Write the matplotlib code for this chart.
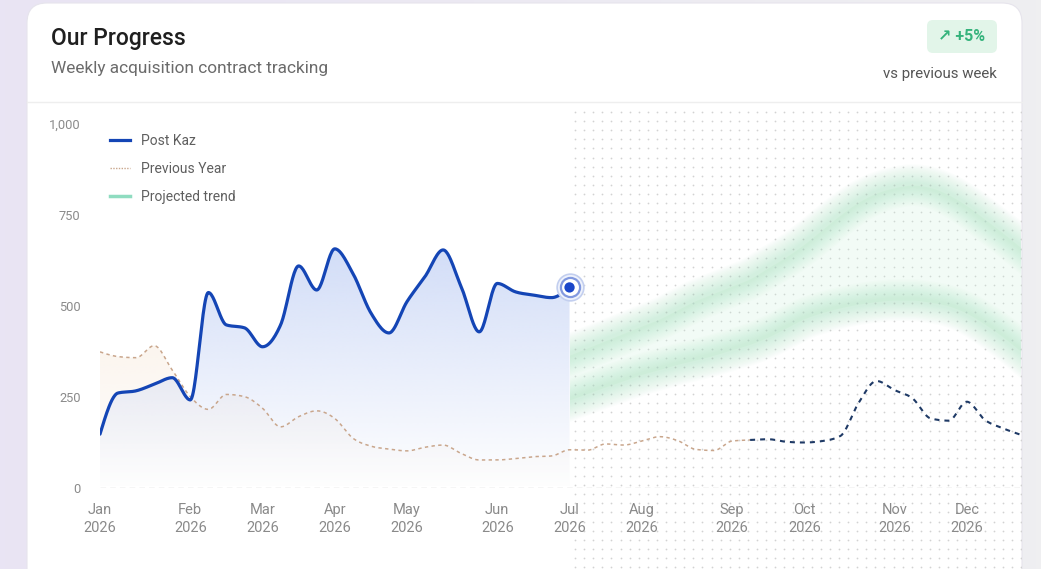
import numpy as np
import matplotlib
matplotlib.use("Agg")
import matplotlib.pyplot as plt
from matplotlib.patches import FancyBboxPatch, Rectangle
from matplotlib.lines import Line2D
from matplotlib.colors import to_rgb

plt.rcParams['font.family'] = ['Roboto', 'DejaVu Sans']

# ---------------- data ----------------
month_labels = ['Jan', 'Feb', 'Mar', 'Apr', 'May', 'Jun', 'Jul', 'Aug', 'Sep', 'Oct', 'Nov', 'Dec']
month_week_index = [0, 5, 9, 13, 17, 22, 26, 30, 35, 39, 44, 48]
year_label = '2026'

post_kaz = [148, 261, 267, 285, 303, 242, 537, 448, 440, 388, 448, 610, 544, 657,
            590, 481, 426, 512, 581, 654, 553, 429, 562, 539, 530, 523, 551]

previous_year = [374, 361, 358, 391, 324, 251, 216, 257, 251, 219, 168, 196, 212, 191,
                 137, 115, 107, 102, 112, 118, 95, 77, 77, 81, 86, 88, 105, 104, 121,
                 118, 129, 141, 130, 106, 103, 129, 132, 134, 127, 125, 129, 143, 233,
                 294, 269, 246, 191, 185, 237, 187, 164, 146]
previous_split_week = 36

projection_start_week = 26
projected_upper = [365, 385, 405, 425, 445, 465, 490, 515, 535, 555, 575, 605, 635,
                   670, 710, 750, 785, 810, 825, 832, 825, 805, 775, 738, 700, 660]
projected_lower = [242, 260, 278, 295, 312, 326, 340, 352, 365, 380, 395, 415, 440,
                   465, 482, 495, 505, 512, 516, 516, 510, 500, 480, 450, 415, 375]

y_ticks = [0, 250, 500, 750, 1000]

# ---------------- helpers ----------------
def monotone_curve(x, y, n=24):
    x = np.asarray(x, float); y = np.asarray(y, float)
    h = np.diff(x); s = np.diff(y) / h
    m = np.zeros_like(y)
    for i in range(1, len(y) - 1):
        p = (s[i - 1] * h[i] + s[i] * h[i - 1]) / (h[i - 1] + h[i])
        m[i] = (np.sign(s[i - 1]) + np.sign(s[i])) * min(abs(s[i - 1]), abs(s[i]), 0.5 * abs(p))
    m[0] = (3 * s[0] - m[1]) / 2 if len(y) > 2 else s[0]
    m[-1] = (3 * s[-1] - m[-2]) / 2 if len(y) > 2 else s[-1]
    xs, ys = [], []
    for i in range(len(y) - 1):
        t = np.linspace(0, 1, n, endpoint=False)
        h00 = 2 * t**3 - 3 * t**2 + 1
        h10 = t**3 - 2 * t**2 + t
        h01 = -2 * t**3 + 3 * t**2
        h11 = t**3 - t**2
        xs.append(x[i] + t * h[i])
        ys.append(h00 * y[i] + h10 * h[i] * m[i] + h01 * y[i + 1] + h11 * h[i] * m[i + 1])
    xs.append([x[-1]]); ys.append([y[-1]])
    return np.concatenate(xs), np.concatenate(ys)


def gradient_fill(ax, x, y, color, a_top, a_bot, ytop, zorder):
    poly = ax.fill_between(x, 0, y, color='none', lw=0)
    rgb = to_rgb(color)
    grad = np.zeros((256, 1, 4))
    grad[:, :, :3] = rgb
    grad[:, 0, 3] = np.linspace(a_top, a_bot, 256)
    im = ax.imshow(grad, aspect='auto', extent=[x[0], x[-1], 0, ytop],
                   origin='upper', zorder=zorder, interpolation='bilinear')
    path = poly.get_paths()[0]
    im.set_clip_path(path, transform=ax.transData)


W, H = 1041, 569
fig = plt.figure(figsize=(W / 100, H / 100), dpi=100)

# background gradient
bg = fig.add_axes([0, 0, 1, 1], zorder=-10)
bg.axis('off')
c1 = np.array(to_rgb('#e9e4f4')); c2 = np.array(to_rgb('#efeff1'))
tt = np.linspace(0, 1, 200)[None, :, None]
bg.imshow(c1 + (c2 - c1) * tt, aspect='auto', extent=[0, 1, 0, 1])
bg.set_xlim(0, 1); bg.set_ylim(0, 1)

# card
card = FancyBboxPatch((27, -40), 995, 569 - 3 + 40, boxstyle="round,pad=0,rounding_size=20",
                      transform=None, facecolor='white', edgecolor='#e6e4ec', lw=0.8, zorder=-5)
fig.patches.append(card)
fig.lines.append(Line2D([27, 1022], [H - 102, H - 102], transform=None, color='#eeeeee', lw=1))

# dotted pattern region (forecast)
dots = fig.add_axes([573 / W, 0, (1021 - 573) / W, (H - 104) / H], zorder=-4)
dots.axis('off')
gx, gy = np.meshgrid(np.arange(2, 448, 9.1), np.arange(2, H - 104, 9.1))
dots.scatter(gx.ravel(), gy.ravel(), s=1.6, color='#d2d2d2', lw=0)
dots.set_xlim(0, 448); dots.set_ylim(0, H - 104)

# main axes
ax = fig.add_axes([100 / W, 81 / H, 921 / W, 364 / H], zorder=1)
ax.set_facecolor('none')
ax.set_xlim(0, 51)
ax.set_ylim(0, 1000)
for sp in ax.spines.values():
    sp.set_visible(False)

# baseline
ax.axhline(0, color='#cfcfcf', lw=1, ls=(0, (4, 3)), zorder=2)

weeks = np.arange(len(previous_year))
kw = np.arange(len(post_kaz))
pw = np.arange(projection_start_week, projection_start_week + len(projected_upper))

# projected trend band (blurred)
clip_rect = Rectangle((projection_start_week, 0), 51 - projection_start_week, 1000,
                      transform=ax.transData, facecolor='none', edgecolor='none')
ax.add_patch(clip_rect)
ux, uy = monotone_curve(pw, projected_upper)
lx, ly = monotone_curve(pw, projected_lower)
ax.fill_between(ux, ly, uy, color='#c8f0da', alpha=0.22, lw=0, zorder=1)
for lw_ in np.linspace(30, 4, 14):
    for cx, cy in ((ux, uy), (lx, ly)):
        ln, = ax.plot(cx, cy, color='#9fe0bb', lw=lw_, alpha=0.035,
                      solid_capstyle='projecting', zorder=1)
        ln.set_clip_path(clip_rect)

# previous year
px, py = monotone_curve(weeks, previous_year)
mask_a = px <= projection_start_week
gradient_fill(ax, px[mask_a], py[mask_a], '#f3dcc4', 0.3, 0.0, 420, zorder=2)

# post kaz fill
kx, ky = monotone_curve(kw, post_kaz)
gradient_fill(ax, kx, ky, '#c9d6f6', 0.85, 0.0, 680, zorder=3)

m1 = px <= previous_split_week
m2 = px >= previous_split_week
ax.plot(px[m1], py[m1], color='#c9a68c', lw=1.1, ls=(0, (2.2, 2.2)), zorder=4)
ax.plot(px[m2], py[m2], color='#1f3a66', lw=1.5, ls=(0, (2.4, 2.4)), zorder=4)

ax.plot(kx, ky, color='#1445b5', lw=2.3, solid_capstyle='round', zorder=5)

# endpoint marker
ex, ey = kw[-1], post_kaz[-1]
ax.scatter([ex], [ey], s=370, facecolor='#eef2fc', edgecolor='#c3cfef', lw=1.2, zorder=6)
ax.scatter([ex], [ey], s=190, facecolor='white', edgecolor='#8299df', lw=1.6, zorder=6)
ax.scatter([ex], [ey], s=55, facecolor='#1a46c9', edgecolor='none', zorder=7)

# ticks
ax.set_yticks(y_ticks)
ax.set_yticklabels([f'{v:,}' for v in y_ticks])
ax.set_xticks(month_week_index)
ax.set_xticklabels([f'{m}\n{year_label}' for m in month_labels])
ax.tick_params(axis='y', length=0, pad=14, labelsize=9.3, labelcolor='#8a8a8a')
ax.tick_params(axis='x', length=0, pad=11, labelsize=10.5, labelcolor='#8a8a8a')
for t in ax.get_xticklabels():
    t.set_linespacing(1.35)

# legend
handles = [Line2D([], [], color='#1445b5', lw=2.3),
           Line2D([], [], color='#c9a68c', lw=1.0, ls=(0, (1, 1))),
           Line2D([], [], color='#8fdcc0', lw=2.5)]
leg = ax.legend(handles, ['Post Kaz', 'Previous Year', 'Projected trend'],
                loc='upper left', bbox_to_anchor=(0.011, 0.972), frameon=False,
                fontsize=10, labelcolor='#5f5f5f', handlelength=1.45,
                handletextpad=0.8, labelspacing=1.0, borderpad=0, borderaxespad=0)

# header texts
fig.text(51 / W, 1 - 38 / H, 'Our Progress', fontsize=16.5, fontweight='medium',
         color='#1f1f1f', va='center', ha='left')
fig.text(51 / W, 1 - 68 / H, 'Weekly acquisition contract tracking', fontsize=12.4,
         color='#6b6b6b', va='center', ha='left')
badge = FancyBboxPatch((927, H - 53), 70, 33, boxstyle="round,pad=0,rounding_size=6",
                       transform=None, facecolor='#e2f5e9', edgecolor='none')
fig.patches.append(badge)
fig.text(962 / W, 1 - 36.5 / H, '↗ +5%', fontsize=11.5, fontweight='bold',
         color='#35b37c', va='center', ha='center')
fig.text(997 / W, 1 - 74 / H, 'vs previous week', fontsize=10.8,
         color='#555555', va='center', ha='right')

fig.savefig('out.png', dpi=100)
